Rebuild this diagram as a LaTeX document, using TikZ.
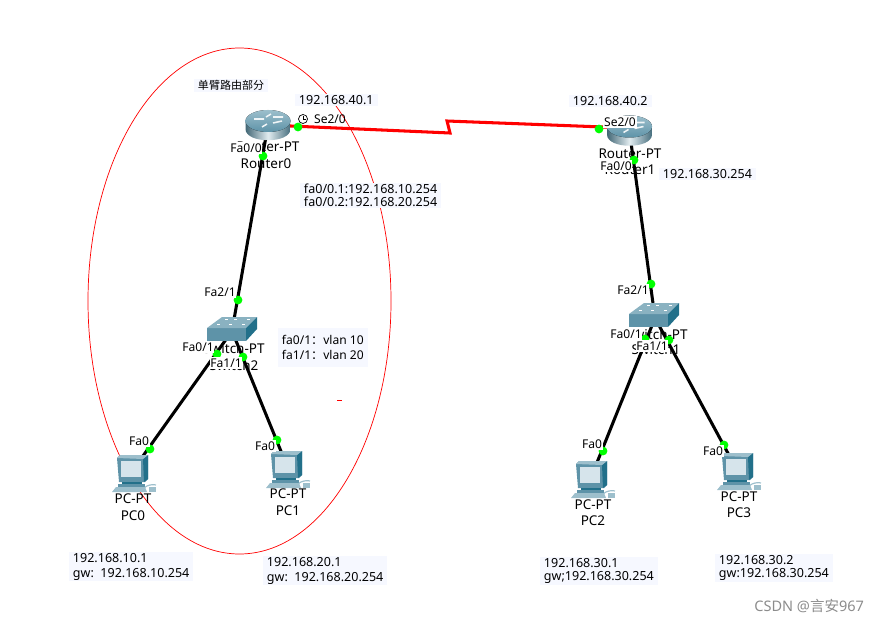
\documentclass[tikz,border=0pt]{standalone}
\usepackage{fontspec}
\setmainfont{Noto Sans}
\newfontfamily\cjk{Noto Sans CJK SC}
\usepackage{xcolor}
\usetikzlibrary{arrows.meta,positioning}
\definecolor{notebg}{HTML}{F6F8FF}
\definecolor{iconmid}{HTML}{5E93A8}
\definecolor{icondark}{HTML}{22708A}
\definecolor{iconpale}{HTML}{9DBFCC}
\definecolor{screenbg}{HTML}{D6E4EB}

\begin{document}
\begin{tikzpicture}[
    x=0.03cm,
    y=-0.03cm,
    every node/.style={inner sep=0pt, outer sep=0pt},
    note/.style={fill=notebg, align=left, anchor=north west, inner xsep=3.4pt, inner ysep=1pt, font=\fontsize{10.7}{11.2}\selectfont},
    widenote/.style={note, font=\fontsize{10.7}{12.8}\selectfont},
    devlabel/.style={font=\fontsize{11.5}{12}\selectfont, align=center},
    portlabel/.style={fill=white, font=\fontsize{10.3}{11}\selectfont, inner xsep=0.6pt, inner ysep=1.2pt},
    port/.style={circle, fill=green, minimum size=7.5pt},
    cable/.style={line width=2.6pt, black},
    serial/.style={line width=2.6pt, red, line join=miter},
    router/.pic={
        \path[left color=iconmid!70!black, right color=iconmid!75!black, middle color=white!70!iconpale]
            (-22.5,-4) -- (-22.5,4) .. controls (-22.5,19) and (22.5,19) .. (22.5,4) -- (22.5,-4) -- cycle;
        \fill[top color=iconpale, bottom color=iconmid] (0,-4) ellipse [x radius=22.5, y radius=11];
        \draw[white!85!iconpale, line width=1.3pt] (-14,-6) -- (-4,-6) (3,-11) -- (-2,-8) (5,-2) -- (14,-4) (-6,2) -- (-1,-1) (5,-8) -- (15,-8);
    },
    switchbox/.pic={
        \fill[iconmid] (-25,-1) rectangle (14,12);
        \fill[iconpale!70!iconmid] (-25,-1) -- (-10,-12) -- (25,-12) -- (14,-1) -- cycle;
        \fill[icondark] (14,-1) -- (25,-12) -- (25,0) -- (14,12) -- cycle;
        \foreach \px/\py in {-15/-4, -7/-9, 2/-9, 10/-4, -3/-4, 15/-9}
            \fill[white] (\px,\py) rectangle +(3,-1);
    },
    computer/.pic={
        \fill[iconmid] (0,3) -- (3,0) -- (31,0) -- (31,24) -- (28,27) -- (2,27) -- cycle;
        \fill[icondark] (26,4) -- (31,0) -- (31,24) -- (27,27) -- cycle;
        \fill[iconpale] (0,3) -- (3,0) -- (31,0) -- (26,4) -- cycle;
        \fill[screenbg] (4,6) rectangle (24,22);
        \fill[icondark] (5,27) rectangle (25,29);
        \fill[iconmid] (1,29) rectangle (28,32);
        \fill[iconpale] (-5,37) -- (-1,32) -- (28,32) -- (30,37) -- cycle;
        \draw[iconpale, line width=1pt] (27,33) .. controls (30,30) and (36,29) .. (39,30);
        \fill[iconpale] (32,32) rectangle (39,37);
    }
]

% Page size
\useasboundingbox (0,0) rectangle (879,623);

% Network boundary
\draw[red, line width=0.6pt] (239.5,301) ellipse [x radius=151.5, y radius=253];
\draw[red, line width=0.8pt] (337,400) -- (342,400);

% Device anchors
\coordinate (router0) at (268,125);
\coordinate (router1) at (629,128);
\coordinate (switch2) at (232,331);
\coordinate (switch1) at (655,318);
\coordinate (pc0) at (133,470);
\coordinate (pc1) at (287,466);
\coordinate (pc2) at (590,480);
\coordinate (pc3) at (737,470);
\coordinate (zigA) at (450,133);
\coordinate (zigB) at (447,121);

% Links
\draw[cable] (router0) -- (switch2);
\draw[cable] (switch2) -- (pc0);
\draw[cable] (switch2) -- (pc1);
\draw[cable] (router1) -- (switch1);
\draw[cable] (switch1) -- (pc2);
\draw[cable] (switch1) -- (pc3);
\draw[serial] (router0) -- (zigA) -- (zigB) -- (router1);

% Devices
\pic at (268,125) {router};
\pic at (629.5,130.5) {router};
\pic at (232,329) {switchbox};
\pic at (654,315) {switchbox};
\pic at (117,455) {computer};
\pic at (271,451) {computer};
\pic at (576,461) {computer};
\pic at (722,453) {computer};

% Device names
\node[devlabel] (r0type) at (268,147) {Router-PT};
\node[devlabel] (r0name) at (266,164) {Router0};
\node[devlabel] (r1type) at (630,154) {Router-PT};
\node[devlabel] (r1name) at (630,170) {Router1};
\node[devlabel] (s2type) at (234,348) {Switch-PT};
\node[devlabel] (s2name) at (234,365) {Switch2};
\node[devlabel] (s1type) at (657,334) {Switch-PT};
\node[devlabel] (s1name) at (656,349) {Switch1};
\node[devlabel] (pc0type) at (133,499) {PC-PT};
\node[devlabel] (pc0name) at (133,516) {PC0};
\node[devlabel] (pc1type) at (288,494) {PC-PT};
\node[devlabel] (pc1name) at (288,511) {PC1};
\node[devlabel] (pc2type) at (593,505) {PC-PT};
\node[devlabel] (pc2name) at (593,521) {PC2};
\node[devlabel] (pc3type) at (739,497) {PC-PT};
\node[devlabel] (pc3name) at (739,513) {PC3};

% Ports
\node[port] (r0se) at (298,127) {};
\node[port] (r0fa) at (263,156) {};
\node[port] (r1se) at (599,129) {};
\node[port] (r1fa) at (634,160) {};
\node[port] (s2f2) at (238,300) {};
\node[port] (s2f0) at (217,354) {};
\node[port] (s2f1) at (243,357) {};
\node[port] (s1f2) at (651,284) {};
\node[port] (s1f0) at (645,339) {};
\node[port] (s1f1) at (669,340) {};
\node[port] (pc0fa) at (150,449) {};
\node[port] (pc1fa) at (277,440) {};
\node[port] (pc2fa) at (603,451) {};
\node[port] (pc3fa) at (724,445) {};

% Port labels
\node[portlabel] (l0) at (246,148) {Fa0/0};
\node[portlabel, fill=none] (l1) at (330,119) {Se2/0};
\draw[black, line width=0.6pt, fill=white] (303,119) circle [radius=4.5];
\draw[black, line width=0.5pt] (303,116) -- (303,119) -- (306,119);
\node[portlabel] (l2) at (620,122) {Se2/0};
\node[portlabel] (l3) at (616,166) {Fa0/0};
\node[portlabel] (l4) at (220,292) {Fa2/1};
\node[portlabel] (l5) at (198,347) {Fa0/1};
\node[portlabel] (l6) at (226,363) {Fa1/1};
\node[portlabel] (l7) at (633,290) {Fa2/1};
\node[portlabel] (l8) at (626,334) {Fa0/1};
\node[portlabel] (l9) at (652,346) {Fa1/1};
\node[portlabel] (l10) at (139,441) {Fa0};
\node[portlabel] (l11) at (265,446) {Fa0};
\node[portlabel] (l12) at (592,444) {Fa0};
\node[portlabel] (l13) at (713,451) {Fa0};

% Notes
\node[note] (title) at (194,79) {\cjk\fontsize{9.4}{10}\selectfont 单臂路由部分};
\node[note] (ip401) at (295,94) {192.168.40.1};
\node[note] (ip402) at (569,95) {192.168.40.2};
\node[note] (subif) at (300,183) {fa0/0.1:192.168.10.254\\fa0/0.2:192.168.20.254};
\node[note] (ip30) at (659,168) {192.168.30.254};
\node[widenote, font=\fontsize{10.3}{12.8}\selectfont, minimum width=2.64cm, minimum height=1.17cm] (vlans) at (278,328) {fa0/1{\cjk ：}vlan 10\\fa1/1{\cjk ：}vlan 20};
\node[widenote] (host0) at (69,552) {192.168.10.1\\gw:\ \ 192.168.10.254};
\node[widenote] (host1) at (263,556) {192.168.20.1\\gw:\ \ 192.168.20.254};
\node[note] (host2) at (540,557) {192.168.30.1\\gw;192.168.30.254};
\node[note] (host3) at (715,554) {192.168.30.2\\gw:192.168.30.254};
\node[text=black!45, font=\fontsize{12.4}{13}\selectfont, anchor=east] (mark) at (864,606) {CSDN @{\cjk 言安}967};
\end{tikzpicture}
\end{document}
